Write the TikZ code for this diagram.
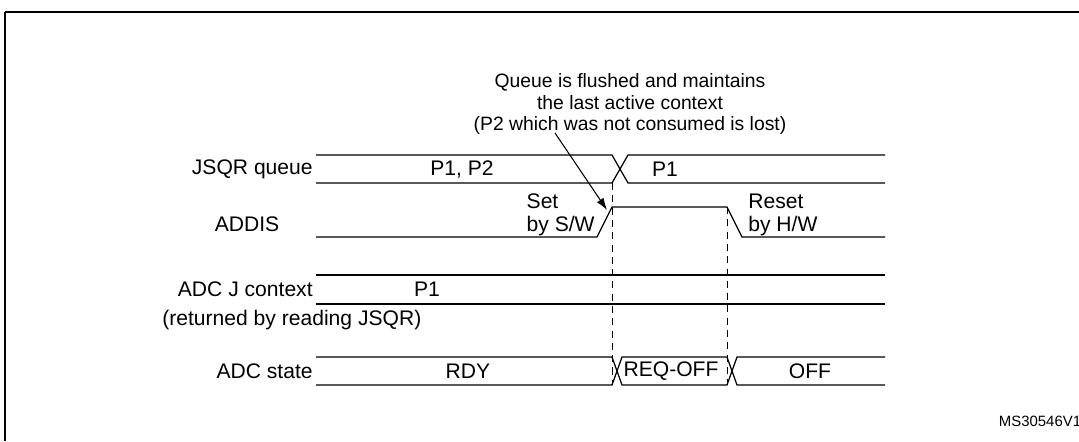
\documentclass[tikz,border=0pt]{standalone}
\usepackage{fontspec}
\setmainfont{Liberation Sans}
\usetikzlibrary{arrows.meta}
\tikzset{>={Latex[width=1.6mm,length=2.4mm]}}

\begin{document}
\begin{tikzpicture}[x=0.02cm,y=-0.02cm, font=\fontsize{12}{13}\selectfont, wave/.style={line width=0.7pt}, label/.style={inner sep=0pt, anchor=east}, val/.style={inner sep=0pt}, guide/.style={dashed, line width=0.5pt, dash pattern=on 4pt off 3pt}]
    \useasboundingbox (0,0) rectangle (1079,441);
    \draw[line width=0.9pt] (5,12) -- (5,441) (5,12) -- (1085,12);

    %Labels
    \node[label](jsqr) at (313,169){JSQR queue};
    \node[inner sep=0pt](addis) at (247,224){ADDIS};
    \node[label](ctx) at (313,289){ADC J context};
    \node[inner sep=0pt, anchor=west](ret) at (162,320){(returned by reading JSQR)};
    \node[label](state) at (313,371){ADC state};

    %Waves
    \draw[wave] (316,155) -- (612,155) -- (628,183) -- (885,183);
    \draw[wave] (316,183) -- (612,183) -- (628,155) -- (885,155);
    \draw[wave] (316,237) -- (597,237) -- (612,207) -- (727,207) -- (742,237) -- (885,237);
    \draw[wave] (316,275) -- (885,275);
    \draw[wave] (316,304) -- (885,304);
    \draw[wave] (316,357) -- (612,357) -- (622,385) -- (727,385) -- (737,357) -- (885,357);
    \draw[wave] (316,385) -- (612,385) -- (622,357) -- (727,357) -- (737,385) -- (885,385);
    \draw[guide] (612,183) -- (612,385);
    \draw[guide] (727,207) -- (727,385);

    %Values
    \node[val](p12) at (462,169){P1, P2};
    \node[val](p1) at (665,169){P1};
    \node[val, align=left, anchor=east](set) at (595,215){Set\\by S/W};
    \node[val, align=left, anchor=west](reset) at (748,215){Reset\\by H/W};
    \node[val](ctxp1) at (427,289){P1};
    \node[val](rdy) at (468,371){RDY};
    \node[val](reqoff) at (671,371){REQ-OFF};
    \node[val](off) at (810,371){OFF};

    %Note
    \node[val, align=center, font=\fontsize{11}{12.3}\selectfont](note) at (630,104){Queue is flushed and maintains\\the last active context\\(P2 which was not consumed is lost)};
    \coordinate (tip) at (607,210);
    \draw[->, line width=0.6pt] (555,133) -- (tip);
    \node[val, font=\fontsize{8.5}{9}\selectfont](ref) at (1040,421){MS30546V1};
\end{tikzpicture}
\end{document}
